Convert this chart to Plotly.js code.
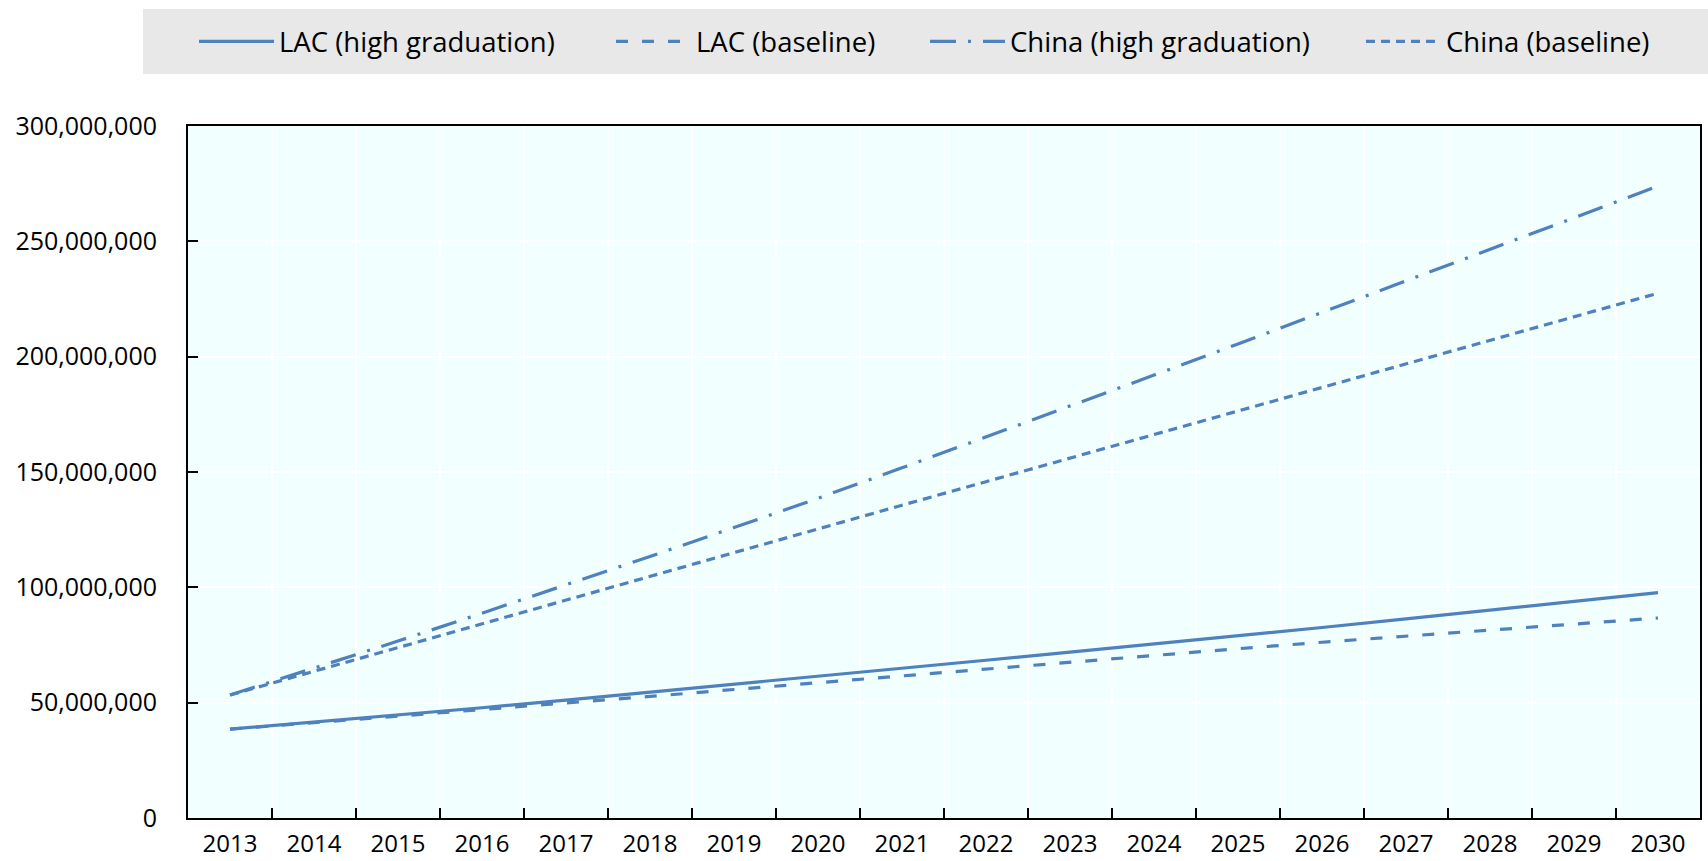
<!DOCTYPE html>
<html>
<head>
<meta charset="utf-8">
<script src="https://cdn.plot.ly/plotly-3.0.1.min.js"></script>
<style>
  html, body { margin: 0; padding: 0; background: #ffffff; }
  #chart { width: 1708px; height: 861px; }
</style>
</head>
<body>
<div id="chart"></div>
<script>
// ---- Data ----
const years = ['2013','2014','2015','2016','2017','2018','2019','2020','2021','2022','2023','2024','2025','2026','2027','2028','2029','2030'];

const lacHigh = [38.5e6, 41.5e6, 44.6e6, 47.8e6, 51.1e6, 54.5e6, 57.9e6, 61.4e6, 64.9e6, 68.4e6, 71.9e6, 75.4e6, 79.0e6, 82.6e6, 86.3e6, 90.0e6, 93.8e6, 97.7e6];
const lacBase = [38.5e6, 41.3e6, 44.0e6, 46.8e6, 49.7e6, 52.7e6, 55.7e6, 58.7e6, 61.7e6, 64.6e6, 67.6e6, 70.5e6, 73.4e6, 76.2e6, 78.9e6, 81.6e6, 84.2e6, 86.7e6];
const chinaHigh = [53.3e6, 64.9e6, 76.7e6, 88.8e6, 101.0e6, 113.4e6, 125.9e6, 138.6e6, 151.8e6, 165.1e6, 178.5e6, 192.0e6, 205.5e6, 219.1e6, 232.8e6, 246.5e6, 260.2e6, 274.0e6];
const chinaBase = [53.3e6, 63.6e6, 74.0e6, 84.4e6, 94.7e6, 105.0e6, 115.2e6, 125.4e6, 135.6e6, 145.8e6, 156.0e6, 166.1e6, 176.3e6, 186.5e6, 196.7e6, 206.9e6, 217.2e6, 227.5e6];

const seriesNames = ['LAC (high graduation)', 'LAC (baseline)', 'China (high graduation)', 'China (baseline)'];
const yTickVals = [0, 50e6, 100e6, 150e6, 200e6, 250e6, 300e6];

// ---- Styling ----
const LINE_COLOR = '#4f81bd';
const FONT = 'Open Sans, Noto Sans, Liberation Sans, sans-serif';
const dashes = ['solid', '12px,14px', '26px,12px,3px,12px', '9px,6px'];
const seriesData = [lacHigh, lacBase, chinaHigh, chinaBase];
const legendIds = ['legend', 'legend2', 'legend3', 'legend4'];
const legendLeftPx = [194, 611, 925, 1361];

const traces = seriesData.map((vals, i) => ({
  type: 'scatter',
  mode: 'lines',
  name: seriesNames[i],
  legend: legendIds[i],
  x: years,
  y: vals,
  line: { color: LINE_COLOR, width: 3.2, dash: dashes[i] },
  hoverinfo: 'x+y+name'
}));

// plot area in pixels: x 188..1700, y 126..818
const L = 188, R = 1700, T = 126, B = 818;
const W = 1708, H = 861;
const px2paperX = p => (p - L) / (R - L);
const px2paperY = p => (B - p) / (B - T);

const layout = {
  width: W,
  height: H,
  margin: { l: L, r: W - R, t: T, b: H - B, pad: 0 },
  paper_bgcolor: '#ffffff',
  plot_bgcolor: '#f2ffff',
  font: { family: FONT, size: 25, color: '#000000' },
  showlegend: true,
  shapes: [{
    type: 'rect',
    xref: 'paper', yref: 'paper',
    x0: px2paperX(143), x1: px2paperX(1712),
    y0: px2paperY(74), y1: px2paperY(9),
    fillcolor: '#e8e8e8',
    line: { width: 0 },
    layer: 'below'
  }],
  xaxis: {
    type: 'category',
    range: [-0.5, years.length - 0.5],
    tickvals: years,
    ticktext: years,
    tickson: 'boundaries',
    ticks: 'inside',
    ticklen: 10,
    tickwidth: 2,
    tickcolor: '#000000',
    showline: true,
    linecolor: '#000000',
    linewidth: 2,
    mirror: true,
    showgrid: true,
    gridcolor: '#ffffff',
    gridwidth: 1.5,
    zeroline: false,
    ticklabelstandoff: 3,
    tickfont: { family: FONT, size: 24, color: '#000000' },
    fixedrange: true
  },
  yaxis: {
    range: [0, 300e6],
    tickvals: yTickVals,
    tickformat: ',d',
    ticks: 'inside',
    ticklen: 10,
    tickwidth: 2,
    tickcolor: '#000000',
    showline: true,
    linecolor: '#000000',
    linewidth: 2,
    mirror: true,
    showgrid: true,
    gridcolor: '#ffffff',
    gridwidth: 1.5,
    zeroline: false,
    ticklabelstandoff: 24,
    tickfont: { family: FONT, size: 25, color: '#000000' },
    fixedrange: true
  }
};

legendIds.forEach((id, i) => {
  layout[id] = {
    orientation: 'h',
    x: px2paperX(legendLeftPx[i]),
    xanchor: 'left',
    y: px2paperY(41.5),
    yanchor: 'middle',
    bgcolor: 'rgba(0,0,0,0)',
    borderwidth: 0,
    font: { family: FONT, size: 27.5, color: '#000000' },
    itemwidth: 75
  };
});

Plotly.newPlot('chart', traces, layout, { displayModeBar: false });
</script>
</body>
</html>
